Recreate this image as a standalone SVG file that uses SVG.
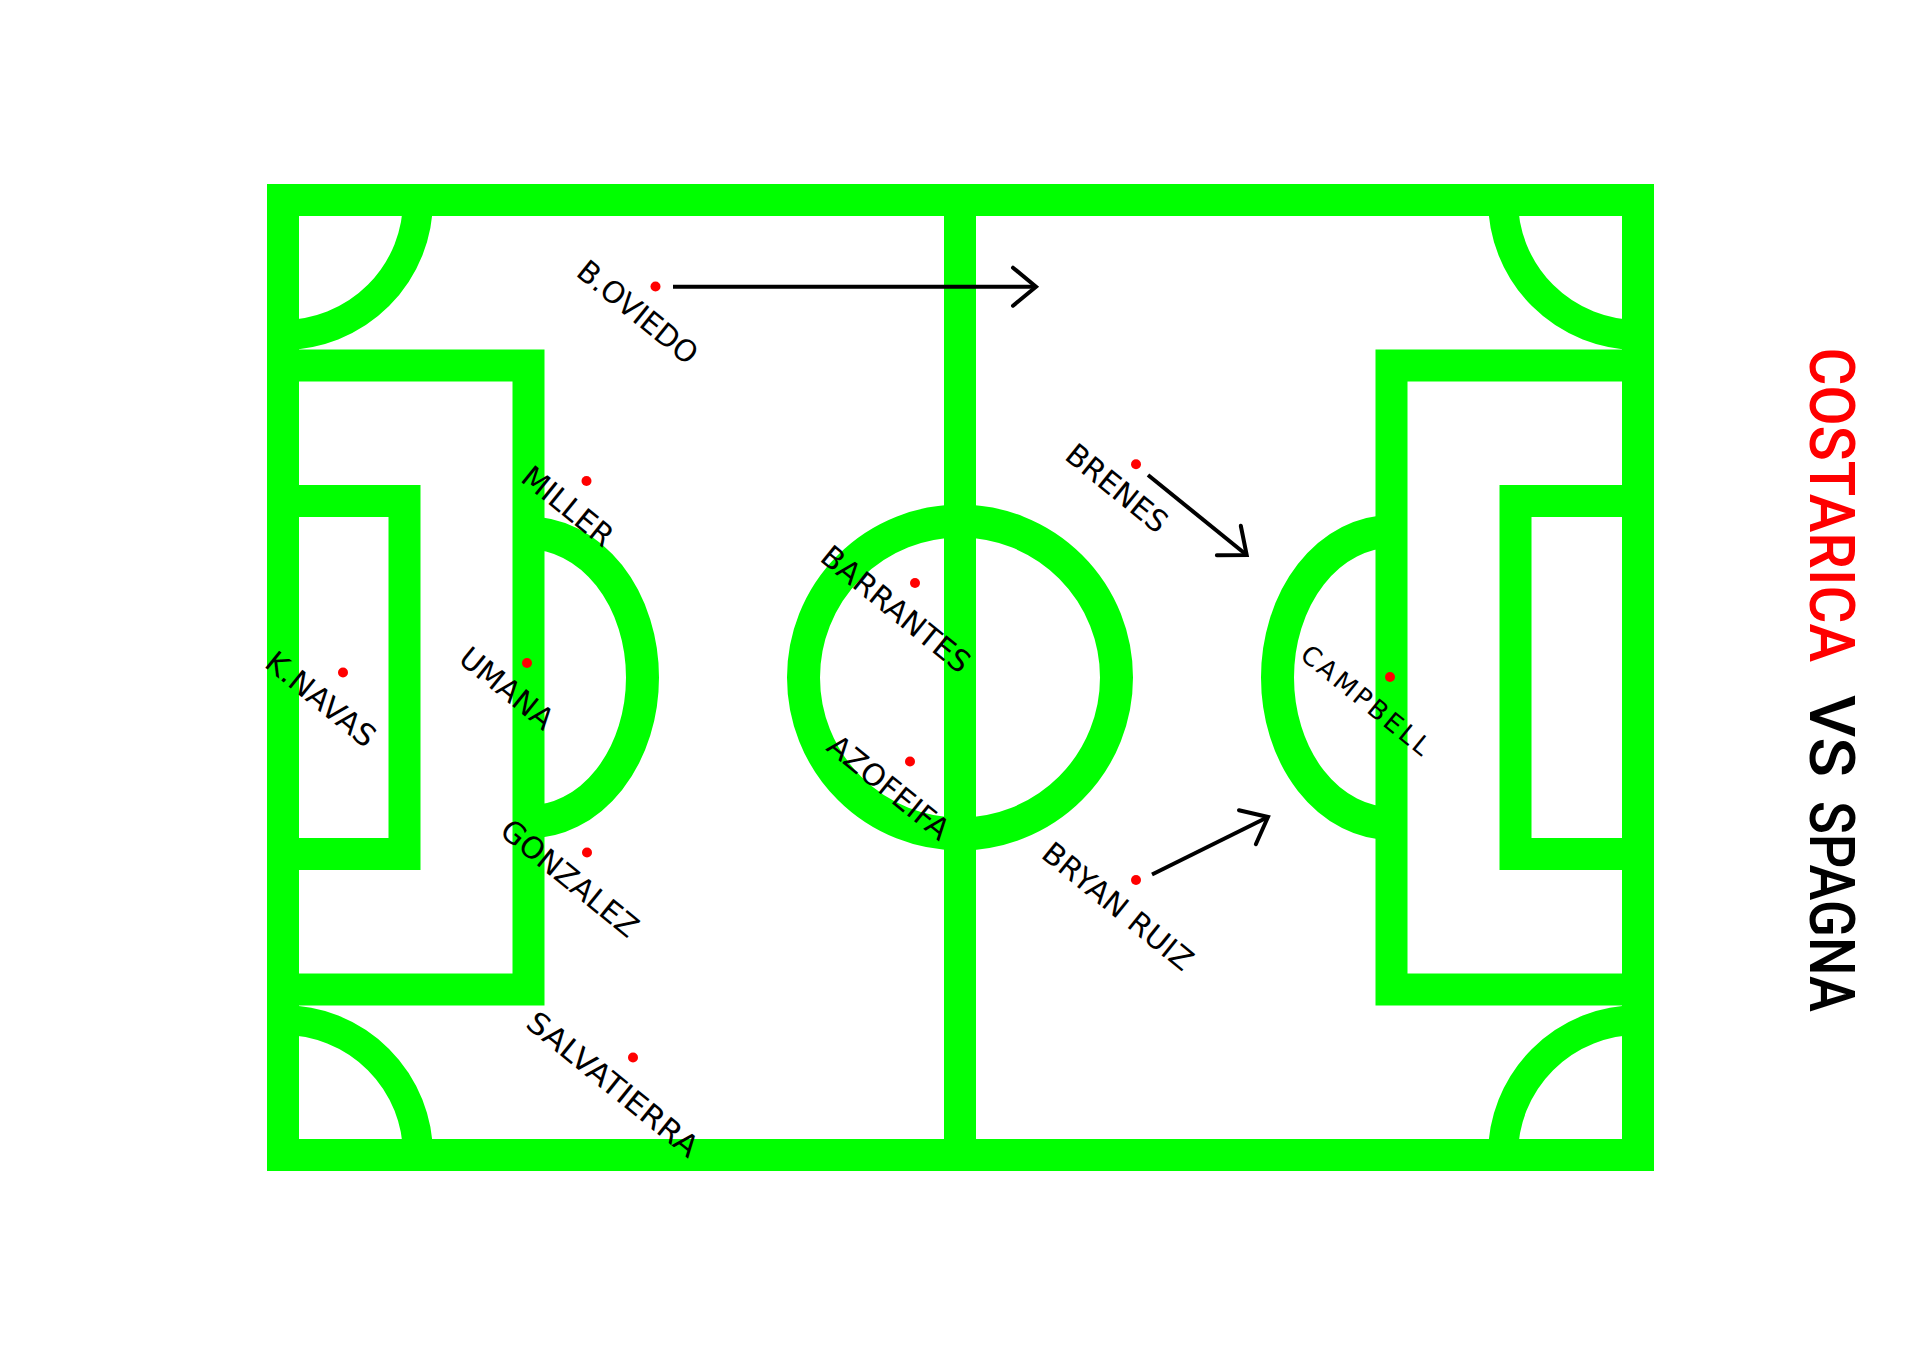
<svg xmlns="http://www.w3.org/2000/svg" width="1920" height="1356" viewBox="0 0 1920 1356">
<style>
.ln{fill:none;stroke:#00ff00;stroke-width:32;stroke-linejoin:miter}
.arc{fill:none;stroke:#00ff00;stroke-width:30}
.dot{fill:#ff0000}
.name{font-family:"DejaVu Sans","Open Sans",sans-serif;font-size:30px;fill:#000000}
.title{font-family:Roboto,"Liberation Sans",sans-serif;font-size:63px;font-weight:500}
.arrow{fill:none;stroke:#000000;stroke-width:4}
</style>
<defs>
<marker id="ah" markerUnits="userSpaceOnUse" orient="auto" overflow="visible" refX="0" refY="0" markerWidth="1" markerHeight="1">
<path d="M-23,-19 L0,0 L-23,19" fill="none" stroke="#000000" stroke-width="4" stroke-linecap="round"/>
</marker>
</defs>
<rect width="1920" height="1356" fill="#ffffff"/>
<g id="pitch">
<rect class="ln" x="283" y="200" width="1355" height="955"/>
<line class="ln" x1="960" y1="200" x2="960" y2="1155"/>
<circle class="ln" cx="960" cy="677.5" r="156.5" style="stroke-width:33"/>
<rect class="ln" x="283" y="365.5" width="245.5" height="624"/>
<rect class="ln" x="283" y="501" width="121.5" height="353"/>
<path class="ln" d="M528.5,533 A114,144.5 0 0 1 528.5,822" style="stroke-width:33"/>
<rect class="ln" x="1391.5" y="365.5" width="246.5" height="624"/>
<rect class="ln" x="1515.5" y="501" width="122.5" height="353"/>
<path class="ln" d="M1391.5,531.5 A114,146 0 0 0 1391.5,823.5" style="stroke-width:33"/>
<path class="arc" d="M418,200 A135,135 0 0 1 283,335"/>
<path class="arc" d="M1503,200 A135,135 0 0 0 1638,335"/>
<path class="arc" d="M283,1020 A135,135 0 0 1 418,1155"/>
<path class="arc" d="M1638,1020 A135,135 0 0 0 1503,1155"/>
</g>
<g id="connectors">
<line class="arrow" x1="673" y1="286.7" x2="1036" y2="286.7" marker-end="url(#ah)"/>
<line class="arrow" x1="1148" y1="475" x2="1246.7" y2="555" marker-end="url(#ah)"/>
<line class="arrow" x1="1152" y1="874.5" x2="1268" y2="817" marker-end="url(#ah)"/>
</g>
<g id="p-boviedo"><circle class="dot" cx="655.5" cy="286.5" r="5"/><text class="name" x="638" y="312" dy="0.36em" text-anchor="middle" textLength="145" lengthAdjust="spacingAndGlyphs" transform="rotate(39 638 312)">B.OVIEDO</text></g>
<g id="p-miller"><circle class="dot" cx="586.5" cy="481" r="5"/><text class="name" x="568" y="506" dy="0.36em" text-anchor="middle" textLength="108" lengthAdjust="spacingAndGlyphs" transform="rotate(39 568 506)">MILLER</text></g>
<g id="p-knavas"><circle class="dot" cx="343" cy="672.5" r="5"/><text class="name" x="321" y="699" dy="0.36em" text-anchor="middle" textLength="132" lengthAdjust="spacingAndGlyphs" transform="rotate(39 321 699)">K.NAVAS</text></g>
<g id="p-umana"><circle class="dot" cx="527" cy="663" r="5"/><text class="name" x="507" y="688" dy="0.36em" text-anchor="middle" textLength="111" lengthAdjust="spacingAndGlyphs" transform="rotate(39 507 688)">UMANA</text></g>
<g id="p-gonzalez"><circle class="dot" cx="587" cy="852.5" r="5"/><text class="name" x="570" y="878" dy="0.36em" text-anchor="middle" textLength="167" lengthAdjust="spacingAndGlyphs" transform="rotate(39 570 878)">GONZALEZ</text></g>
<g id="p-salvatierra"><circle class="dot" cx="633" cy="1057.5" r="5"/><text class="name" x="613" y="1084" dy="0.36em" text-anchor="middle" textLength="211" lengthAdjust="spacingAndGlyphs" transform="rotate(39 613 1084)">SALVATIERRA</text></g>
<g id="p-barrantes"><circle class="dot" cx="915" cy="583" r="5"/><text class="name" x="896" y="609" dy="0.36em" text-anchor="middle" textLength="182" lengthAdjust="spacingAndGlyphs" transform="rotate(39 896 609)">BARRANTES</text></g>
<g id="p-azofeifa"><circle class="dot" cx="910" cy="761.5" r="5"/><text class="name" x="889" y="787" dy="0.36em" text-anchor="middle" textLength="147" lengthAdjust="spacingAndGlyphs" transform="rotate(39 889 787)">AZOFEIFA</text></g>
<g id="p-brenes"><circle class="dot" cx="1136" cy="464.3" r="5"/><text class="name" x="1117" y="488" dy="0.36em" text-anchor="middle" textLength="121" lengthAdjust="spacingAndGlyphs" transform="rotate(39 1117 488)">BRENES</text></g>
<g id="p-bryanruiz"><circle class="dot" cx="1136" cy="880" r="5"/><text class="name" x="1118" y="906" dy="0.36em" text-anchor="middle" textLength="184" lengthAdjust="spacingAndGlyphs" transform="rotate(39 1118 906)">BRYAN RUIZ</text></g>
<g id="p-campbell"><circle class="dot" cx="1390" cy="677" r="5"/><text class="name" x="1366" y="700" dy="0.36em" text-anchor="middle" style="font-size:26px" textLength="158" lengthAdjust="spacing" transform="rotate(39 1366 700)">CAMPBELL</text></g>
<g id="title" transform="translate(1810,0) rotate(90)">
<text class="title" x="347.5" y="0" fill="#ff0000" textLength="314.5" lengthAdjust="spacingAndGlyphs">COSTARICA</text>
<text class="title" x="695" y="0" fill="#000000" textLength="82" lengthAdjust="spacingAndGlyphs">VS</text>
<text class="title" x="801" y="0" fill="#000000" textLength="211" lengthAdjust="spacingAndGlyphs">SPAGNA</text>
</g>
</svg>
